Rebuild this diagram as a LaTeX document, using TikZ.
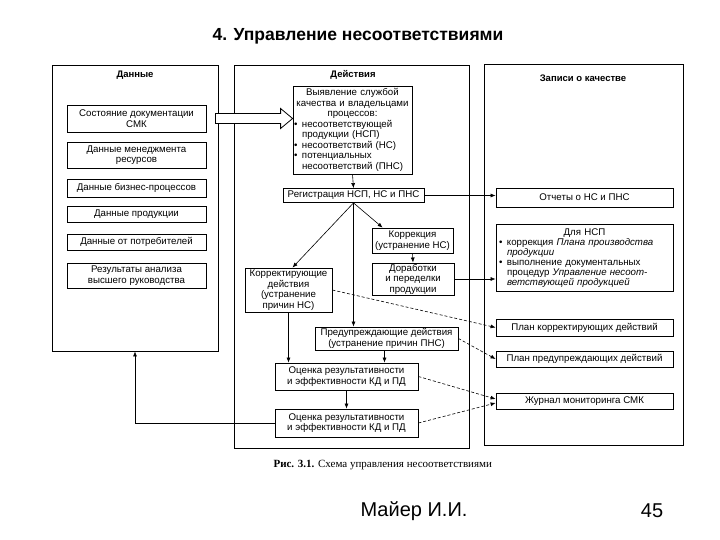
\documentclass[tikz,border=0pt]{standalone}
\usepackage{fontspec}
\setmainfont{Liberation Sans}
\newfontfamily\capserif{Liberation Serif}
\usetikzlibrary{arrows.meta,calc}
\newcommand\mybul{\makebox[8pt][l]{\textbullet}}
\newcommand\myind{\hspace*{8pt}}
\begin{document}
\begin{tikzpicture}[x=1pt,y=-1pt,
  box/.style={draw,line width=0.8pt,inner sep=1pt,align=center,font=\fontsize{9.7}{10.5}\selectfont},
  col/.style={draw,line width=0.9pt,inner sep=0pt},
  ttl/.style={font=\bfseries\fontsize{9.5}{11}\selectfont},
  arr/.style={line width=0.6pt,-{Latex[length=5pt,width=4pt]}},
  dsh/.style={arr,dash pattern=on 3pt off 2pt},
]
\useasboundingbox[fill=white] (0,0) rectangle (720,540);

% title
\node[font=\bfseries\fontsize{17.5}{20}\selectfont] (title) at (358,36) {4. Управление несоответствиями};

% columns
\node[col,minimum width=166,minimum height=286] (colL) at (135,208) {};
\node[col,minimum width=235,minimum height=383] (colM) at (351.5,256.5) {};
\node[col,minimum width=199,minimum height=381] (colR) at (583.5,254.5) {};
\node[ttl] (tL) at (135,75) {Данные};
\node[ttl] (tM) at (353,75) {Действия};
\node[ttl] (tR) at (583,78) {Записи о качестве};

% left boxes
\node[box,minimum width=139,minimum height=27] (d1) at (136.5,118.5) {Состояние документации\\СМК};
\node[box,minimum width=139,minimum height=26] (d2) at (136.5,155) {Данные менеджмента\\ресурсов};
\node[box,minimum width=139,minimum height=18] (d3) at (136.5,188) {Данные бизнес-процессов};
\node[box,minimum width=139,minimum height=16] (d4) at (136.5,214.5) {Данные продукции};
\node[box,minimum width=139,minimum height=16] (d5) at (136.5,242) {Данные от потребителей};
\node[box,minimum width=139,minimum height=25] (d6) at (136.5,275.5) {Результаты анализа\\высшего руководства};

% middle boxes
\node[box,minimum width=119,minimum height=88,text width=117,align=left] (vyj) at (352.5,130)
 {\centering Выявление службой\\качества и владельцами\\процессов:\par\raggedright
  \mybul несоответствующей\\\myind продукции (НСП)\\\mybul несоответствий (НС)\\\mybul потенциальных\\\myind несоответствий (ПНС)};
\node[box,minimum width=141,minimum height=14] (reg) at (353.5,195.5) {Регистрация НСП, НС и ПНС};
\node[box,minimum width=81,minimum height=25] (korr) at (412.5,240.5) {Коррекция\\(устранение НС)};
\node[box,minimum width=82,minimum height=32] (dor) at (413,279) {Доработки\\и переделки\\продукции};
\node[box,minimum width=87,minimum height=44] (kd) at (288.5,290) {Корректирующие\\действия\\(устранение\\причин НС)};
\node[box,minimum width=143,minimum height=23] (pd) at (386.5,338.5) {Предупреждающие действия\\(устранение причин ПНС)};
\node[box,minimum width=143,minimum height=27] (oc1) at (346.5,376.5) {Оценка результативности\\и эффективности КД и ПД};
\node[box,minimum width=143,minimum height=28] (oc2) at (346.5,423) {Оценка результативности\\и эффективности КД и ПД};

% right boxes
\node[box,minimum width=177,minimum height=19] (otch) at (584.5,197.5) {Отчеты о НС и ПНС};
\node[box,font=\fontsize{9.7}{10}\selectfont,minimum width=177,minimum height=67,text width=171,align=left] (dlya) at (584.5,258)
 {\centering Для НСП\par\raggedright
  \mybul коррекция \textit{Плана производства}\\\myind\textit{продукции}\\\mybul выполнение документальных\\\myind процедур \textit{Управление несоот-}\\\myind\textit{ветствующей продукцией}};
\node[box,minimum width=177,minimum height=17] (plk) at (584.5,327.5) {План корректирующих действий};
\node[box,minimum width=177,minimum height=16] (plp) at (584.5,359) {План предупреждающих действий};
\node[box,minimum width=177,minimum height=16] (jur) at (584.5,401) {Журнал мониторинга СМК};

% caption and footer
\node[anchor=west,font=\capserif\fontsize{11}{13}\selectfont] (cap) at (270,465) {\textbf{Рис. 3.1.} Схема управления несоответствиями};
\node[font=\fontsize{20}{24}\selectfont] (auth) at (414,511) {Майер И.И.};
\node[font=\fontsize{20}{24}\selectfont] (page) at (652,511) {45};

% hollow block arrow
\coordinate (ha) at (d1.east);
\coordinate (hb) at (vyj.west |- d1.east);
\draw[line width=0.8pt,fill=white] ($(ha)+(9,-5)$) -- ($(hb)+(-12,-5)$) -- ($(hb)+(-12,-10)$) -- (hb)
  -- ($(hb)+(-12,10)$) -- ($(hb)+(-12,5)$) -- ($(ha)+(9,5)$) -- cycle;

% connectors
\draw[arr] (vyj.south) -- (reg.north);
\draw[arr] (reg.east) -- (reg.east -| otch.west);
\draw[arr] (reg.south) -- ([xshift=11pt]korr.north west);
\draw[arr] (reg.south) -- ([xshift=4pt]kd.north);
\draw[arr] (reg.south) -- (reg.south |- pd.north);
\draw[arr] (korr.south) -- (dor.north);
\draw[arr] (dor.east) -- (dor.east -| dlya.west);
\draw[dsh] (kd.east) -- (plk.west);
\draw[dsh] (pd.east) -- (plp.west);
\draw[arr] (kd.south) -- (kd.south |- oc1.north);
\draw[arr] ([xshift=-2pt]pd.south) -- ([xshift=-2pt]pd.south |- oc1.north);
\draw[arr] (oc1.south) -- (oc2.north);
\draw[dsh] (oc1.east) -- ([yshift=2pt]jur.west);
\draw[dsh] (oc2.east) -- ([yshift=-2pt]jur.west);
\draw[arr] (oc2.west) -| (colL.south);
\end{tikzpicture}
\end{document}
